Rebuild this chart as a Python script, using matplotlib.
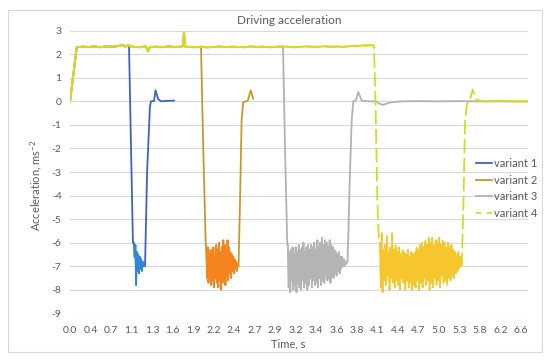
import matplotlib
matplotlib.use('Agg')
import matplotlib.pyplot as plt
from matplotlib.lines import Line2D
from matplotlib.patches import Rectangle
import numpy as np

# x 轴是类别轴：位置 0..22 对应下面的时间标签
time_labels = ['0.0', '0.4', '0.7', '1.1', '1.3', '1.6', '1.9', '2.2', '2.4', '2.7', '2.9',
               '3.2', '3.4', '3.6', '3.8', '4.1', '4.4', '4.7', '5.0', '5.3', '5.8', '6.2', '6.6']
y_ticks = list(range(-9, 4))

# 起步加速段（四个方案共用）
launch_t = [0.0, 0.16, 0.33, 0.6, 0.9, 1.2, 1.5, 1.8, 2.1, 2.4, 2.55, 2.7, 2.85, 3.1, 3.4, 3.7,
            3.8, 3.9, 4.2, 4.5, 4.8, 5.1, 5.4, 5.52, 5.56, 5.6, 5.8, 6.1, 6.4, 6.7, 7.0, 7.3,
            7.6, 7.9, 8.2, 8.5, 8.8, 9.1, 9.4, 9.7, 10.0, 10.3, 10.6, 10.9, 11.2, 11.5, 11.8,
            12.1, 12.4, 12.7, 13.0, 13.3, 13.6, 13.9, 14.1, 14.3, 14.5, 14.7, 14.8]
launch_a = [0.0, 1.1, 2.30, 2.32, 2.31, 2.33, 2.30, 2.34, 2.32, 2.36, 2.40, 2.33, 2.38, 2.31,
            2.30, 2.33, 2.12, 2.31, 2.32, 2.30, 2.33, 2.31, 2.32, 2.34, 3.02, 2.33, 2.31, 2.30,
            2.32, 2.29, 2.31, 2.33, 2.30, 2.32, 2.31, 2.30, 2.33, 2.31, 2.32, 2.30, 2.31, 2.33,
            2.32, 2.30, 2.31, 2.33, 2.32, 2.31, 2.34, 2.32, 2.33, 2.31, 2.34, 2.36, 2.35, 2.38,
            2.37, 2.39, 2.38]

# variant 1
v1_drop_t = [2.88, 3.0, 3.07]
v1_drop_a = [2.3, -3.0, -6.0]
v1_brake_span = (3.12, 3.64)
v1_brake_a = [-6.0, -6.6, -6.1, -7.8, -6.4, -7.2, -6.5, -7.3, -6.6, -7.1, -6.7, -7.2,
              -6.8, -7.0, -6.9, -7.0]
v1_rec_t = [3.66, 3.76, 3.9, 3.95, 4.1, 4.17, 4.3, 4.45, 4.7, 5.07]
v1_rec_a = [-7.0, -3.0, -0.2, 0.0, 0.02, 0.47, 0.1, 0.0, 0.02, 0.03]

# variant 2
v2_drop_t = [6.39, 6.5, 6.62]
v2_drop_a = [2.3, -2.0, -6.05]
v2_brake_span = (6.65, 8.2)
v2_brake_a = [-6.3, -7.5, -6.2, -7.7, -6.5, -7.4, -6.3, -7.8, -6.4, -7.6,
              -6.2, -7.9, -6.6, -7.5, -6.1, -7.7, -6.3, -7.9, -6.0, -7.6,
              -6.4, -8.0, -6.2, -7.7, -5.9, -7.5, -6.1, -7.8, -6.3, -7.4,
              -5.9, -7.6, -6.2, -7.3, -6.4, -7.5, -6.5, -7.2, -6.6, -7.3,
              -6.7, -7.1, -6.8, -7.2, -6.9, -7.0]
v2_rec_t = [8.22, 8.3, 8.37, 8.45, 8.6, 8.68, 8.81, 8.94]
v2_rec_a = [-7.0, -4.0, -0.8, -0.03, 0.0, 0.05, 0.47, 0.11]

# variant 3
v3_drop_t = [10.39, 10.5, 10.6]
v3_drop_a = [2.3, -2.5, -6.1]
v3_brake_span = (10.63, 13.46)
v3_brake_a = [-6.1, -7.9, -6.4, -8.1, -6.3, -7.6, -6.2, -8.0, -6.5, -7.8,
              -6.2, -8.1, -6.4, -7.7, -6.1, -7.9, -6.3, -8.0, -6.2, -7.6,
              -6.0, -7.9, -6.4, -7.7, -6.2, -8.0, -6.1, -7.8, -6.3, -7.5,
              -6.1, -7.9, -6.2, -7.6, -6.0, -7.8, -6.3, -7.7, -5.9, -7.9,
              -6.2, -7.5, -6.0, -7.8, -5.8, -7.6, -6.1, -7.7, -5.9, -7.4,
              -6.0, -7.6, -6.2, -7.5, -5.9, -7.7, -6.1, -7.4, -6.2, -7.5,
              -6.3, -7.3, -6.4, -7.4, -6.5, -7.2, -6.4, -7.3, -6.6, -7.1,
              -6.6, -7.0, -6.7, -7.0, -6.8, -6.9]
v3_rec_t = [13.54, 13.64, 13.74, 13.82, 13.95, 14.06, 14.23, 14.6, 14.93, 15.1, 15.27,
            15.6, 16.1, 17.0, 18.0, 19.0, 20.0, 21.0, 22.34]
v3_rec_a = [-6.8, -3.5, -0.8, 0.0, 0.05, 0.4, 0.03, 0.0, 0.0, -0.1, -0.15,
            -0.05, 0.0, 0.01, 0.0, 0.01, 0.0, 0.0, 0.0]

# variant 4
v4_drop_t = [14.83, 14.9, 15.0, 15.07]
v4_drop_a = [2.3, 0.0, -4.5, -6.0]
v4_brake_span = (15.12, 19.07)
v4_brake_a = [-6.0, -7.9, -5.6, -8.1, -6.3, -7.6, -6.1, -7.8, -5.7, -7.4,
              -6.4, -8.0, -6.2, -7.5, -5.6, -7.7, -6.3, -7.9, -6.1, -7.6,
              -6.4, -7.8, -6.2, -8.0, -6.5, -7.5, -6.3, -7.7, -6.4, -8.0,
              -6.5, -7.6, -6.3, -7.9, -6.6, -7.7, -6.4, -8.0, -6.5, -7.8,
              -6.4, -7.9, -6.2, -7.6, -6.3, -8.0, -6.1, -7.7, -6.0, -7.9,
              -6.2, -7.5, -5.9, -7.8, -6.1, -7.6, -5.8, -8.0, -6.0, -7.7,
              -5.8, -7.9, -6.1, -7.5, -5.9, -7.8, -6.0, -7.6, -5.8, -7.9,
              -6.1, -7.4, -5.9, -7.7, -6.0, -7.6, -6.2, -7.8, -6.0, -7.5,
              -6.2, -7.6, -6.1, -7.4, -6.3, -7.5, -6.4, -7.3, -6.5, -7.2,
              -6.4, -7.1, -6.6, -7.0]
v4_rec_t = [19.11, 19.2, 19.27, 19.38, 19.5, 19.58, 19.64, 19.72, 19.84, 20.2, 21.0, 21.7, 22.34]
v4_rec_a = [-7.0, -4.0, -0.8, 0.0, 0.02, 0.3, 0.5, 0.3, 0.05, 0.0, 0.01, 0.0, 0.0]

labels = ['variant 1', 'variant 2', 'variant 3', 'variant 4']
line_colors = ['#3F62C4', '#C49A2C', '#B2B2B2', '#D6D82C']
brake_colors = ['#2E86D4', '#F5841F', '#B4B4B4', '#F7C62F']

plt.rcParams['font.family'] = ['Lato', 'DejaVu Sans']
plt.rcParams['axes.unicode_minus'] = False


def build(drop_t, drop_a, span, brake_a, rec_t, rec_a):
    """拼接一个方案的完整曲线，返回 (t, a, 制动段起止下标)"""
    lt = np.array(launch_t)
    la = np.array(launch_a)
    keep = lt < drop_t[0]
    bt = np.linspace(span[0], span[1], len(brake_a))
    t = np.concatenate([lt[keep], drop_t, bt, rec_t])
    a = np.concatenate([la[keep], drop_a, brake_a, rec_a])
    i0 = keep.sum() + len(drop_t)
    return t, a, (i0, i0 + len(brake_a)), keep.sum()


variants = [
    build(v1_drop_t, v1_drop_a, v1_brake_span, v1_brake_a, v1_rec_t, v1_rec_a),
    build(v2_drop_t, v2_drop_a, v2_brake_span, v2_brake_a, v2_rec_t, v2_rec_a),
    build(v3_drop_t, v3_drop_a, v3_brake_span, v3_brake_a, v3_rec_t, v3_rec_a),
    build(v4_drop_t, v4_drop_a, v4_brake_span, v4_brake_a, v4_rec_t, v4_rec_a),
]

fig = plt.figure(figsize=(5.5, 3.61), dpi=100)
ax = fig.add_axes([70 / 550, 1 - 313.3 / 361, 458 / 550, 282.6 / 361])

for k, (t, a, (b0, b1), n_launch) in enumerate(variants):
    if k < 3:
        ax.plot(t, a, color=line_colors[k], lw=1.3, zorder=2 + k)
        ax.plot(t[b0 - 1:b1 + 1], a[b0 - 1:b1 + 1], color=brake_colors[k], lw=1.1, zorder=2 + k)
    else:
        # variant 4 为虚线，平稳段看起来是实线
        ax.plot(t, a, color=line_colors[k], lw=1.3, ls=(0, (8, 2.5)), zorder=6)
        ax.plot(t[:n_launch + 1], a[:n_launch + 1], color=line_colors[k], lw=1.5, zorder=6)
        ax.plot(t[b0:b1], a[b0:b1], color=brake_colors[k], lw=1.1, zorder=6)
        tail = len(t) - 5
        ax.plot(t[tail:], a[tail:], color=line_colors[k], lw=1.3, zorder=6)

ax.set_xlim(0, 22.34)
ax.set_ylim(-9, 3)
ax.set_xticks(range(len(time_labels)))
ax.set_xticklabels(time_labels)
ax.set_yticks(y_ticks)
ax.tick_params(length=0, labelsize=7.5, colors='#595959', pad=6)
ax.tick_params(axis='x', pad=9)
ax.grid(True, axis='y', color='#D9D9D9', lw=0.8)
ax.set_axisbelow(True)
for s in ax.spines.values():
    s.set_visible(False)

fig.text(289 / 550, 1 - 20 / 361, 'Driving acceleration', ha='center', va='center',
         fontsize=8.5, color='#595959')
fig.text(288 / 550, 1 - 344 / 361, 'Time, s', ha='center', va='center',
         fontsize=8, color='#595959')
fig.text(36 / 550, 1 - 185 / 361, r'Acceleration, ms$^{\mathregular{-2}}$', ha='center',
         va='center', rotation=90, fontsize=8, color='#595959')

handles = [Line2D([0], [0], color=line_colors[0], lw=1.3),
           Line2D([0], [0], color=line_colors[1], lw=1.3),
           Line2D([0], [0], color=line_colors[2], lw=1.3),
           Line2D([0], [0], color=line_colors[3], lw=1.3, ls=(0, (3, 3)))]
leg = fig.legend(handles, labels, loc='upper left', bbox_to_anchor=(476 / 550, 1 - 158 / 361),
                 frameon=False, fontsize=8, handlelength=1.4, handletextpad=0.2,
                 labelspacing=0.5, borderpad=0, borderaxespad=0)
for txt in leg.get_texts():
    txt.set_color('#595959')

fig.patches.append(Rectangle((8 / 550, 1 - 352 / 361), 533.7 / 550, 342.5 / 361,
                             transform=fig.transFigure, fill=False, ec='#D9D9D9', lw=0.8))

fig.savefig('out.png', dpi=100)
